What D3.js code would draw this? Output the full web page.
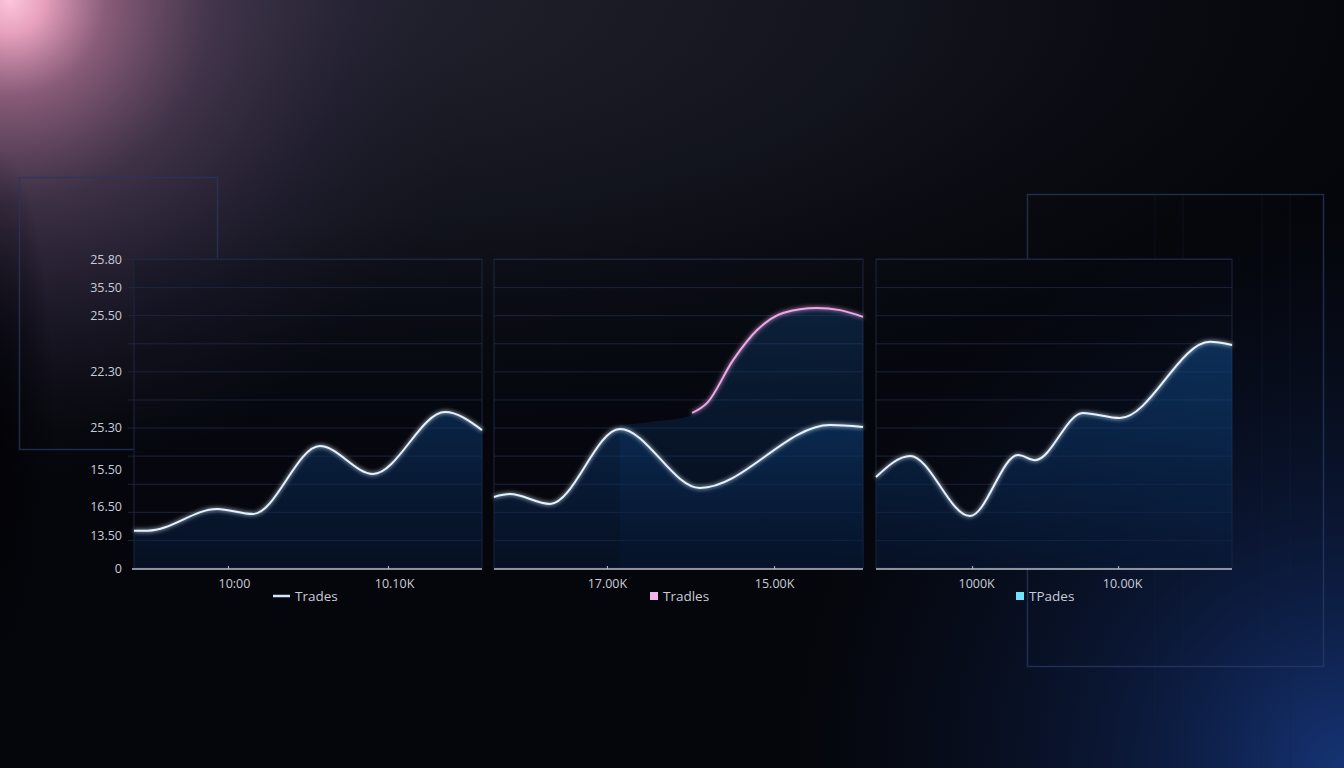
<!DOCTYPE html>
<html>
<head>
<meta charset="utf-8">
<script src="https://cdn.jsdelivr.net/npm/d3@7/dist/d3.min.js"></script>
<style>
  html,body{margin:0;padding:0;background:#05060b;overflow:hidden;}
  svg{display:block;}
  text{font-family:"Open Sans","DejaVu Sans",sans-serif;}
</style>
</head>
<body>
<svg id="chart" width="1344" height="768"></svg>
<script>
// ---------------- DATA ----------------
const yTickValues = [110, 100, 90, 70, 50, 35, 22, 11.5, 0];
const yTickLabels = ["25.80", "35.50", "25.50", "22.30", "25.30", "15.50", "16.50", "13.50", "0"];
const gridValues = [0, 10, 20, 30, 40, 50, 60, 70, 80, 90, 100, 110];

// panel 1
const p1X = [0, 4, 23.9, 34.2, 53.4, 68.7, 89.4, 100];
const p1Y = [13.3, 13.3, 21.0, 19.2, 43.4, 33.5, 55.5, 49.1];
const p1TickValues = [27, 73];
const p1TickLabels = ["10:00", "10.10K"];
const p1Legend = "Trades";

// panel 2
const p2X = [0, 4.3, 15.2, 34.1, 55.8, 91.1, 100];
const p2Y = [25.3, 26.3, 22.8, 49.5, 28.5, 50.9, 50.2];
const p2PinkShelfX = [34.1, 44, 53];
const p2PinkShelfY = [50.8, 52.2, 54.0];
const p2PinkX = [53.7, 57.7, 64.8, 71.3, 78.3, 87.5, 93.8, 100];
const p2PinkY = [55.2, 58.7, 74.0, 84.7, 90.8, 92.6, 91.8, 89.4];
const p2TickValues = [30.6, 75.9];
const p2TickLabels = ["17.00K", "15.00K"];
const p2Legend = "Tradles";

// panel 3
const p3X = [0, 9.6, 26.4, 39.9, 44.7, 58.1, 68.5, 93.8, 100];
const p3Y = [32.4, 39.9, 18.5, 40.2, 38.4, 55.2, 53.4, 80.5, 79.4];
const p3TickValues = [27, 68];
const p3TickLabels = ["1000K", "10.00K"];
const p3Legend = "TPades";

// ---------------- DRAW ----------------
const W = 1344, H = 768;
const svg = d3.select("#chart");
const defs = svg.append("defs");

const haze = defs.append("radialGradient").attr("id", "haze");
haze.append("stop").attr("offset", "0").attr("stop-color", "#23232f").attr("stop-opacity", 1);
haze.append("stop").attr("offset", "0.5").attr("stop-color", "#171923").attr("stop-opacity", 0.75);
haze.append("stop").attr("offset", "1").attr("stop-color", "#0c0d14").attr("stop-opacity", 0);

const pinkGlow = defs.append("radialGradient").attr("id", "pinkGlow")
  .attr("gradientUnits", "userSpaceOnUse").attr("cx", 10).attr("cy", 0).attr("r", 480);
pinkGlow.append("stop").attr("offset", "0").attr("stop-color", "#fcc6da").attr("stop-opacity", 1);
pinkGlow.append("stop").attr("offset", "0.07").attr("stop-color", "#f2a8c6").attr("stop-opacity", 0.95);
pinkGlow.append("stop").attr("offset", "0.2").attr("stop-color", "#a86e90").attr("stop-opacity", 0.78);
pinkGlow.append("stop").attr("offset", "0.42").attr("stop-color", "#58425f").attr("stop-opacity", 0.62);
pinkGlow.append("stop").attr("offset", "0.7").attr("stop-color", "#302842").attr("stop-opacity", 0.38);
pinkGlow.append("stop").attr("offset", "1").attr("stop-color", "#1a1a28").attr("stop-opacity", 0);

const edgeDark = defs.append("radialGradient").attr("id", "edgeDark");
edgeDark.append("stop").attr("offset", "0").attr("stop-color", "#020207").attr("stop-opacity", 0.9);
edgeDark.append("stop").attr("offset", "1").attr("stop-color", "#020207").attr("stop-opacity", 0);

const blueGlow = defs.append("radialGradient").attr("id", "blueGlow")
  .attr("gradientUnits", "userSpaceOnUse").attr("cx", W).attr("cy", H).attr("r", 560);
blueGlow.append("stop").attr("offset", "0").attr("stop-color", "#16367a").attr("stop-opacity", 0.95);
blueGlow.append("stop").attr("offset", "0.45").attr("stop-color", "#0e2250").attr("stop-opacity", 0.55);
blueGlow.append("stop").attr("offset", "1").attr("stop-color", "#0a1530").attr("stop-opacity", 0);

const areaGrad = defs.append("linearGradient").attr("id", "areaGrad")
  .attr("gradientUnits", "userSpaceOnUse").attr("x1", 0).attr("y1", 300).attr("x2", 0).attr("y2", 568);
areaGrad.append("stop").attr("offset", "0").attr("stop-color", "#15508f").attr("stop-opacity", 0.6);
areaGrad.append("stop").attr("offset", "0.45").attr("stop-color", "#0c3a70").attr("stop-opacity", 0.55);
areaGrad.append("stop").attr("offset", "1").attr("stop-color", "#061a3a").attr("stop-opacity", 0.45);

const glow = defs.append("filter").attr("id", "glow").attr("x", "-10%").attr("y", "-10%").attr("width", "120%").attr("height", "120%");
glow.append("feGaussianBlur").attr("in", "SourceGraphic").attr("stdDeviation", 2).attr("result", "b");
const fm = glow.append("feMerge");
fm.append("feMergeNode").attr("in", "b");
fm.append("feMergeNode").attr("in", "SourceGraphic");

const y = d3.scaleLinear().domain([0, 110]).range([568, 259]);

const panels = [
  { x0: 134, x1: 482, xs: p1X, ys: p1Y, ticks: p1TickValues, tickLabels: p1TickLabels, tickDx: 6,
    legend: p1Legend, legendType: "line", legendColor: "#cfe6ff", legendX: 273 },
  { x0: 494, x1: 863, xs: p2X, ys: p2Y, ticks: p2TickValues, tickLabels: p2TickLabels, tickDx: 0,
    legend: p2Legend, legendType: "square", legendColor: "#f3b6ea", legendX: 650,
    pink: true },
  { x0: 876, x1: 1232, xs: p3X, ys: p3Y, ticks: p3TickValues, tickLabels: p3TickLabels, tickDx: 4,
    legend: p3Legend, legendType: "square", legendColor: "#72e2fa", legendX: 1016 }
];

const mask = defs.append("mask").attr("id", "outsidePanels");
mask.append("rect").attr("width", W).attr("height", H).attr("fill", "white");
panels.forEach(p => mask.append("rect").attr("x", p.x0).attr("y", y(110)).attr("width", p.x1 - p.x0)
  .attr("height", y(0) - y(110)).attr("fill", "black"));

// background layers
svg.append("rect").attr("width", W).attr("height", H).attr("fill", "#05060b");
svg.append("ellipse").attr("cx", 320).attr("cy", 0).attr("rx", 1150).attr("ry", 440).attr("fill", "url(#haze)");
svg.append("rect").attr("width", W).attr("height", H).attr("fill", "url(#pinkGlow)");
svg.append("ellipse").attr("cx", 0).attr("cy", 440).attr("rx", 55).attr("ry", 290).attr("fill", "url(#edgeDark)");
svg.append("rect").attr("width", W).attr("height", H).attr("fill", "url(#blueGlow)");

const deco = svg.append("g").attr("mask", "url(#outsidePanels)");
const bgGrid = deco.append("g").attr("stroke", "#1a2544").attr("stroke-opacity", 0.3).attr("stroke-width", 1);
[1155, 1183, 1262, 1290].forEach(x => bgGrid.append("line").attr("x1", x).attr("x2", x).attr("y1", 194).attr("y2", 768));
deco.append("rect").attr("x", 19.5).attr("y", 177.5).attr("width", 198).attr("height", 272)
  .attr("fill", "none").attr("stroke", "#2a3660").attr("stroke-opacity", 0.75).attr("stroke-width", 1.5);
deco.append("rect").attr("x", 1027.5).attr("y", 194.5).attr("width", 296).attr("height", 472)
  .attr("fill", "none").attr("stroke", "#2a3d66").attr("stroke-opacity", 0.7).attr("stroke-width", 1.5);

panels.forEach((p, i) => {
  const x = d3.scaleLinear().domain([0, 100]).range([p.x0, p.x1]);
  const g = svg.append("g");

  g.append("rect").attr("x", p.x0).attr("y", y(110)).attr("width", p.x1 - p.x0).attr("height", y(0) - y(110))
    .attr("fill", "#0a0e1c").attr("fill-opacity", 0.2)
    .attr("stroke", "#1d2640").attr("stroke-width", 1);

  g.selectAll(".grid").data(gridValues.slice(1)).enter().append("line")
    .attr("x1", i === 0 ? p.x0 - 6 : p.x0).attr("x2", p.x1)
    .attr("y1", d => y(d) + 0.5).attr("y2", d => y(d) + 0.5)
    .attr("stroke", "#1f2842").attr("stroke-opacity", 0.85).attr("stroke-width", 1);

  const pts = p.xs.map((v, k) => [v, p.ys[k]]);
  const area = d3.area().curve(d3.curveMonotoneX).x(d => x(d[0])).y0(y(0)).y1(d => y(d[1]));
  const line = d3.line().curve(d3.curveMonotoneX).x(d => x(d[0])).y(d => y(d[1]));

  if (p.pink) {
    const pinkArea = p2PinkShelfX.map((v, k) => [v, p2PinkShelfY[k]])
      .concat(p2PinkX.map((v, k) => [v, p2PinkY[k]]));
    g.append("path").datum(pinkArea).attr("d", area).attr("fill", "url(#areaGrad)").attr("opacity", 0.55);
  }
  g.append("path").datum(pts).attr("d", area).attr("fill", "url(#areaGrad)");

  if (p.pink) {
    const pinkPts = p2PinkX.map((v, k) => [v, p2PinkY[k]]);
    g.append("path").datum(pinkPts).attr("d", line).attr("fill", "none")
      .attr("stroke", "#f0a6e6").attr("stroke-width", 2).attr("filter", "url(#glow)");
  }
  g.append("path").datum(pts).attr("d", line).attr("fill", "none")
    .attr("stroke", "#e4f2ff").attr("stroke-width", 2).attr("filter", "url(#glow)");

  const xAxis = d3.axisBottom(x).tickValues(p.ticks).tickFormat((d, k) => p.tickLabels[k])
    .tickSize(3).tickPadding(7);
  const ax = g.append("g").attr("transform", `translate(0,${y(0) + 1})`).call(xAxis);
  ax.select(".domain").attr("stroke", "#b9bdc9").attr("stroke-width", 1.5)
    .attr("d", `M${i === 0 ? p.x0 - 2 : p.x0},0H${p.x1}`);
  ax.selectAll(".tick line").attr("stroke", "#b9bdc9").attr("y1", -3).attr("y2", 0);
  ax.selectAll(".tick text").attr("fill", "#c8ccd8").attr("font-size", 12.5)
    .attr("dx", p.tickDx).style("font-family", "'Open Sans','DejaVu Sans',sans-serif");

  const lg = g.append("g").attr("transform", `translate(${p.legendX},596)`);
  if (p.legendType === "line") {
    lg.append("line").attr("x1", 0).attr("x2", 17).attr("y1", 0).attr("y2", 0)
      .attr("stroke", p.legendColor).attr("stroke-width", 2.5);
    lg.append("text").attr("x", 22).attr("y", 5).attr("fill", "#c8ccd8").attr("font-size", 13.5).text(p.legend);
  } else {
    lg.append("rect").attr("x", 0).attr("y", -4).attr("width", 8).attr("height", 8).attr("fill", p.legendColor);
    lg.append("text").attr("x", 13).attr("y", 5).attr("fill", "#c8ccd8").attr("font-size", 13.5).text(p.legend);
  }
});

const yAxis = d3.axisLeft(y).tickValues(yTickValues).tickFormat((d, k) => yTickLabels[k]).tickSize(0).tickPadding(0);
const yg = svg.append("g").attr("transform", "translate(122,0)").call(yAxis);
yg.select(".domain").remove();
yg.selectAll(".tick text").attr("fill", "#c8ccd8").attr("font-size", 12.5)
  .style("font-family", "'Open Sans','DejaVu Sans',sans-serif");
</script>
</body>
</html>
